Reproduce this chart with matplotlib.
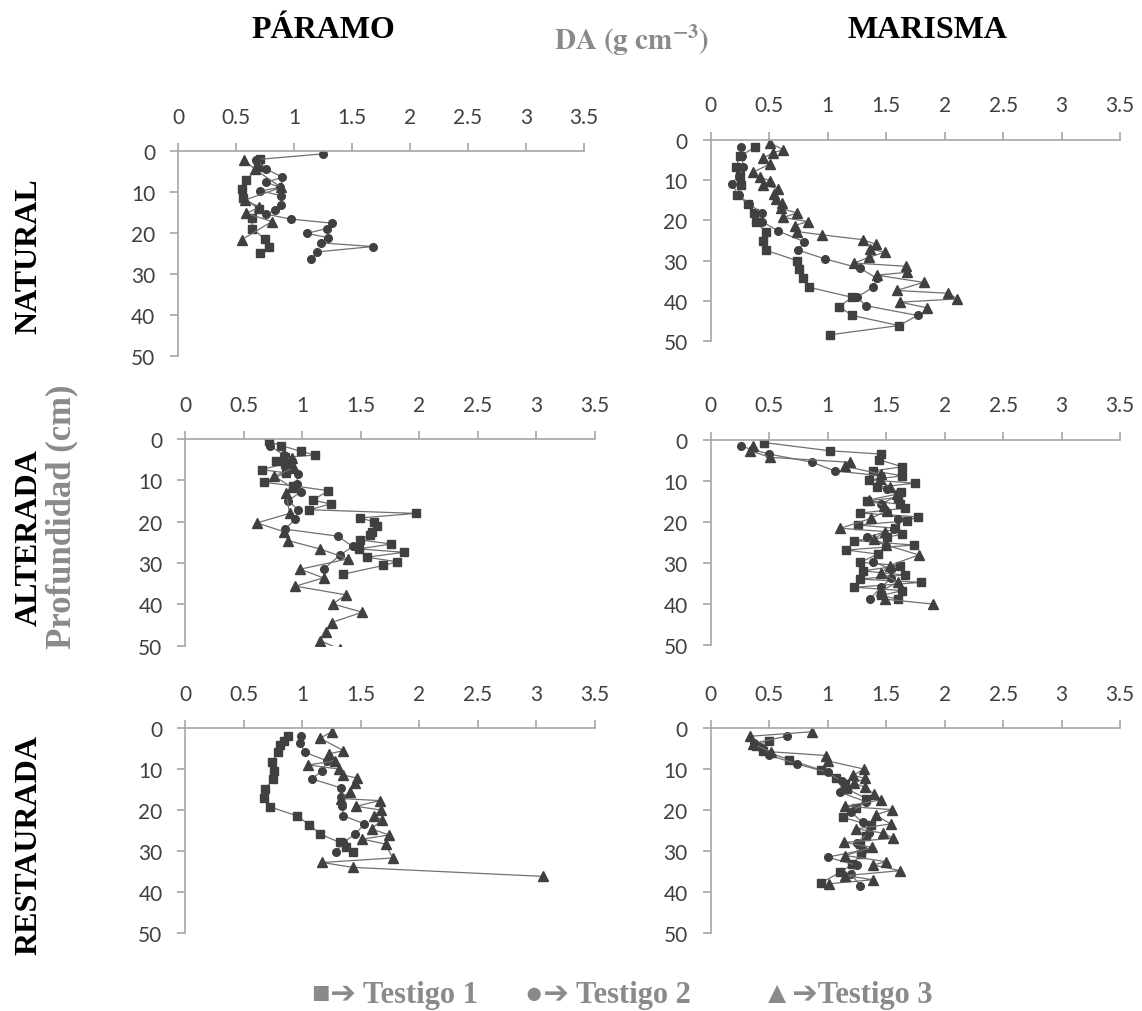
"""Densidad aparente (DA) frente a profundidad en paramo y marisma.

Seis paneles: filas = estado (natural, alterada, restaurada),
columnas = ambiente (paramo, marisma). Tres testigos por panel.
"""
import matplotlib
matplotlib.use("Agg")
import matplotlib.pyplot as plt

# === Datos (profundidad en cm, DA en g cm-3) ===
# Paramo natural
PN_T1_PROF = [2.0, 4.0, 7.0, 9.3, 11.5, 14.1, 16.4, 18.9, 21.5, 23.5, 24.9]
PN_T1_DA = [0.71, 0.69, 0.59, 0.55, 0.56, 0.70, 0.64, 0.64, 0.75, 0.78, 0.71]
PN_T2_PROF = [0.7, 2.1, 4.4, 6.4, 7.6, 8.9, 9.7, 10.9, 13.2, 14.4, 15.4, 16.6,
              17.6, 18.9, 20.1, 21.1, 22.4, 23.3, 24.6, 26.3]
PN_T2_DA = [1.25, 0.67, 0.76, 0.90, 0.76, 0.88, 0.71, 0.89, 0.89, 0.84, 0.76,
            0.97, 1.33, 1.28, 1.11, 1.29, 1.23, 1.68, 1.20, 1.15]
PN_T3_PROF = [2.2, 4.4, 8.9, 11.9, 13.7, 15.2, 17.2, 21.6]
PN_T3_DA = [0.57, 0.66, 0.89, 0.58, 0.70, 0.59, 0.81, 0.55]

# Marisma natural
MN_T1_PROF = [1.9, 4.1, 6.7, 8.9, 11.2, 13.7, 16.0, 18.2, 20.3, 23.0, 25.2,
              27.4, 30.0, 32.2, 34.4, 36.6, 39.1, 41.4, 43.6, 46.1, 48.4]
MN_T1_DA = [0.38, 0.25, 0.22, 0.25, 0.26, 0.23, 0.32, 0.37, 0.39, 0.47, 0.45,
            0.47, 0.74, 0.76, 0.79, 0.84, 1.21, 1.10, 1.21, 1.61, 1.02]
MN_T2_PROF = [1.9, 4.1, 6.9, 8.9, 11.0, 13.7, 16.0, 18.2, 20.3, 22.7, 25.3,
              27.4, 29.6, 31.9, 34.4, 36.6, 39.1, 41.2, 43.6, 46.1]
MN_T2_DA = [0.26, 0.27, 0.28, 0.24, 0.18, 0.24, 0.33, 0.44, 0.44, 0.58, 0.80,
            0.75, 0.98, 1.28, 1.42, 1.39, 1.25, 1.33, 1.77, 1.61]
MN_T3_PROF = [0.8, 2.5, 3.3, 4.6, 6.0, 8.1, 9.3, 10.2, 11.2, 12.2, 13.5, 14.7,
              15.7, 17.0, 18.2, 19.3, 20.3, 21.3, 22.8, 23.6, 24.8, 25.9, 27.1,
              27.9, 29.2, 30.6, 31.4, 32.9, 33.6, 35.4, 37.4, 38.1, 39.5, 40.3,
              41.7]
MN_T3_DA = [0.51, 0.62, 0.53, 0.45, 0.51, 0.36, 0.42, 0.51, 0.45, 0.58, 0.54,
            0.56, 0.61, 0.60, 0.74, 0.62, 0.83, 0.72, 0.74, 0.95, 1.30, 1.41,
            1.36, 1.49, 1.35, 1.23, 1.67, 1.68, 1.42, 1.82, 1.59, 2.03, 2.11,
            1.62, 1.85]

# Paramo alterada
PA_T1_PROF = [0.6, 1.6, 3.0, 3.9, 4.4, 5.2, 6.0, 7.4, 8.2, 10.5, 11.3, 12.5,
              14.8, 15.7, 17.1, 18.0, 19.1, 20.0, 21.0, 22.4, 23.2, 24.4, 25.4,
              26.6, 27.4, 28.6, 29.7, 30.6, 32.7]
PA_T1_DA = [0.71, 0.82, 0.99, 1.11, 0.85, 0.77, 0.85, 0.65, 0.86, 0.67, 0.92,
            1.22, 1.09, 1.24, 1.06, 1.97, 1.49, 1.61, 1.64, 1.59, 1.58, 1.49,
            1.76, 1.48, 1.87, 1.55, 1.81, 1.69, 1.35]
PA_T2_PROF = [1.6, 3.9, 5.2, 6.5, 8.5, 10.9, 12.7, 14.9, 17.1, 19.4, 21.8,
              23.5, 26.0, 28.1, 31.5]
PA_T2_DA = [0.72, 0.84, 0.91, 0.88, 0.96, 0.95, 0.99, 0.88, 0.96, 0.94, 0.85,
            1.30, 1.43, 1.32, 1.18]
PA_T3_PROF = [4.7, 6.9, 9.0, 11.7, 13.1, 18.0, 20.3, 22.4, 24.6, 26.6, 29.0,
              31.5, 33.6, 35.6, 37.7, 39.9, 41.9, 44.4, 46.8, 48.8, 50.8]
PA_T3_DA = [0.91, 0.93, 0.76, 0.91, 0.86, 0.89, 0.61, 0.84, 0.88, 1.15, 1.39,
            0.98, 1.18, 0.94, 1.37, 1.26, 1.51, 1.25, 1.20, 1.15, 1.32]

# Marisma alterada
MA_T1_PROF = [0.7, 2.7, 3.5, 4.9, 6.6, 7.6, 8.8, 9.8, 10.6, 11.6, 12.7, 14.1,
              14.9, 15.7, 16.7, 17.9, 18.8, 19.8, 20.8, 21.6, 23.0, 23.8, 24.6,
              25.7, 26.9, 27.9, 29.9, 30.7, 32.0, 33.0, 34.0, 34.8, 36.0, 36.8,
              38.0, 38.9]
MA_T1_DA = [0.46, 1.02, 1.46, 1.44, 1.64, 1.39, 1.64, 1.35, 1.75, 1.42, 1.63,
            1.60, 1.34, 1.62, 1.66, 1.28, 1.77, 1.68, 1.26, 1.58, 1.64, 1.51,
            1.23, 1.74, 1.16, 1.43, 1.28, 1.62, 1.30, 1.66, 1.28, 1.80, 1.23,
            1.64, 1.46, 1.60]
MA_T2_PROF = [1.6, 3.5, 5.5, 7.6, 8.8, 12.0, 13.5, 15.7, 17.7, 19.3, 21.8,
              23.8, 25.9, 27.9, 29.8, 31.5, 33.8, 36.0, 38.9]
MA_T2_DA = [0.26, 0.50, 0.87, 1.06, 1.46, 1.51, 1.60, 1.46, 1.51, 1.60, 1.57,
            1.34, 1.50, 1.43, 1.39, 1.54, 1.54, 1.46, 1.36]
MA_T3_PROF = [1.6, 2.7, 4.3, 5.5, 6.5, 8.4, 9.6, 11.6, 13.3, 14.7, 16.1, 17.3,
              19.2, 21.6, 22.4, 24.2, 25.7, 28.1, 30.7, 32.4, 34.8, 36.8, 38.9,
              40.1]
MA_T3_DA = [0.36, 0.34, 0.51, 1.19, 1.15, 1.46, 1.45, 1.53, 1.59, 1.35, 1.48,
            1.51, 1.37, 1.11, 1.49, 1.40, 1.50, 1.78, 1.53, 1.46, 1.60, 1.46,
            1.49, 1.90]

# Paramo restaurada
PR_T1_PROF = [1.9, 3.1, 4.1, 5.9, 8.2, 10.4, 12.4, 14.9, 17.1, 19.2, 21.4,
              23.6, 25.9, 27.9, 29.1, 30.3]
PR_T1_DA = [0.88, 0.84, 0.81, 0.79, 0.74, 0.76, 0.75, 0.68, 0.67, 0.72, 0.95,
            1.06, 1.15, 1.32, 1.37, 1.43]
PR_T2_PROF = [1.9, 3.7, 5.9, 8.0, 10.4, 12.4, 14.6, 16.9, 19.1, 21.4, 23.4,
              25.9, 27.9, 30.2]
PR_T2_DA = [0.99, 0.98, 1.02, 1.21, 1.17, 1.08, 1.33, 1.33, 1.34, 1.35, 1.53,
            1.45, 1.35, 1.29]
PR_T3_PROF = [0.9, 2.5, 5.5, 6.3, 8.0, 9.0, 10.0, 11.5, 12.2, 13.4, 15.5, 17.2,
              17.7, 19.1, 20.0, 21.4, 22.4, 24.6, 26.1, 27.1, 28.3, 31.7, 32.8,
              34.0, 36.2]
PR_T3_DA = [1.25, 1.15, 1.35, 1.23, 1.28, 1.05, 1.31, 1.35, 1.47, 1.45, 1.41,
            1.33, 1.66, 1.46, 1.67, 1.61, 1.68, 1.59, 1.74, 1.51, 1.71, 1.77,
            1.17, 1.43, 3.06]

# Marisma restaurada
MR_T1_PROF = [3.1, 4.3, 5.5, 7.7, 10.2, 12.3, 13.7, 14.9, 17.2, 19.6, 21.8,
              23.7, 26.3, 28.3, 30.7, 33.2, 35.2, 37.8]
MR_T1_DA = [0.50, 0.39, 0.45, 0.67, 0.94, 1.07, 1.15, 1.17, 1.33, 1.24, 1.13,
            1.37, 1.33, 1.28, 1.29, 1.21, 1.11, 0.94]
MR_T2_PROF = [2.0, 3.7, 4.8, 6.6, 8.8, 10.8, 13.0, 15.7, 18.0, 20.5, 23.0,
              25.5, 28.0, 29.8, 31.5, 33.5, 35.5, 38.5]
MR_T2_DA = [0.65, 0.37, 0.44, 0.50, 0.74, 1.00, 1.12, 1.11, 1.33, 1.20, 1.30,
            1.35, 1.25, 1.30, 1.00, 1.25, 1.20, 1.28]
MR_T3_PROF = [0.9, 2.0, 3.9, 5.8, 6.7, 8.0, 10.0, 11.5, 12.3, 13.4, 14.5, 16.1,
              17.5, 19.1, 19.9, 21.2, 23.4, 24.6, 25.6, 26.9, 27.9, 29.1, 31.1,
              32.6, 33.4, 34.8, 36.0, 37.0, 38.0]
MR_T3_DA = [0.87, 0.34, 0.36, 0.52, 0.99, 1.00, 1.31, 1.22, 1.32, 1.23, 1.32,
            1.40, 1.46, 1.15, 1.55, 1.41, 1.54, 1.24, 1.47, 1.56, 1.14, 1.38,
            1.15, 1.50, 1.39, 1.62, 1.15, 1.39, 1.01]

XTICKS = [0, 0.5, 1, 1.5, 2, 2.5, 3, 3.5]
XLABELS = ["0", "0.5", "1", "1.5", "2", "2.5", "3", "3.5"]
YTICKS = [0, 10, 20, 30, 40, 50]

PANELES = [
    # (posicion [l, b, w, h] en fraccion de figura, series)
    ([0.1559, 0.6472, 0.3555, 0.2026],
     [(PN_T1_DA, PN_T1_PROF), (PN_T2_DA, PN_T2_PROF), (PN_T3_DA, PN_T3_PROF)]),
    ([0.6222, 0.6618, 0.3586, 0.1992],
     [(MN_T1_DA, MN_T1_PROF), (MN_T2_DA, MN_T2_PROF), (MN_T3_DA, MN_T3_PROF)]),
    ([0.1624, 0.3610, 0.3586, 0.2042],
     [(PA_T1_DA, PA_T1_PROF), (PA_T2_DA, PA_T2_PROF), (PA_T3_DA, PA_T3_PROF)]),
    ([0.6222, 0.3620, 0.3586, 0.2025],
     [(MA_T1_DA, MA_T1_PROF), (MA_T2_DA, MA_T2_PROF), (MA_T3_DA, MA_T3_PROF)]),
    ([0.1624, 0.0771, 0.3586, 0.2025],
     [(PR_T1_DA, PR_T1_PROF), (PR_T2_DA, PR_T2_PROF), (PR_T3_DA, PR_T3_PROF)]),
    ([0.6222, 0.0771, 0.3586, 0.2025],
     [(MR_T1_DA, MR_T1_PROF), (MR_T2_DA, MR_T2_PROF), (MR_T3_DA, MR_T3_PROF)]),
]

MARCADORES = [("s", 5.5), ("o", 5.5), ("^", 6.5)]
GRIS_EJE = "#a6a6a6"
GRIS_TXT = "#8a8a8a"
SERIF = ["Liberation Serif", "DejaVu Sans"]

plt.rcParams["mathtext.fontset"] = "stix"


def estilo(ax):
    ax.set_xlim(0, 3.5)
    ax.set_ylim(50, 0)
    ax.xaxis.tick_top()
    ax.set_xticks(XTICKS)
    ax.set_xticklabels(XLABELS)
    ax.set_yticks(YTICKS)
    for lado in ("right", "bottom"):
        ax.spines[lado].set_visible(False)
    for lado in ("top", "left"):
        ax.spines[lado].set_color(GRIS_EJE)
        ax.spines[lado].set_linewidth(1.2)
    ax.tick_params(axis="both", direction="out", length=5.5, width=1.2,
                   color=GRIS_EJE, labelsize=15, labelcolor="#404040")
    ax.tick_params(axis="x", pad=12)
    ax.tick_params(axis="y", pad=11)
    for lbl in ax.get_xticklabels() + ax.get_yticklabels():
        lbl.set_family("Lato")


def main() -> None:
    fig = plt.figure(figsize=(11.42, 10.12), dpi=100)

    for pos, series in PANELES:
        ax = fig.add_axes(pos)
        for (da, prof), (mk, ms) in zip(series, MARCADORES):
            ax.plot(da, prof, color="#707070", lw=0.9, marker=mk, ms=ms,
                    mfc="#404040", mec="#404040")
        estilo(ax)

    # Titulos de columna
    fig.text(323 / 1142, 1 - 30 / 1012, "PÁRAMO", ha="center", va="center",
             fontsize=23, fontweight="bold", family=SERIF)
    fig.text(928 / 1142, 1 - 30 / 1012, "MARISMA", ha="center", va="center",
             fontsize=23, fontweight="bold", family=SERIF)
    fig.text(632 / 1142, 1 - 40 / 1012, r"$\mathbf{DA\ (g\ cm^{-3})}$",
             ha="center", va="center", fontsize=21, color=GRIS_TXT)

    # Titulos de fila
    for yc, txt in [(256, "NATURAL"), (538, "ALTERADA"), (845, "RESTAURADA")]:
        fig.text(29 / 1142, 1 - yc / 1012, txt, rotation=90, ha="center",
                 va="center", fontsize=23, fontweight="bold", family=SERIF)
    fig.text(62 / 1142, 1 - 517 / 1012, "Profundidad (cm)", rotation=90,
             ha="center", va="center", fontsize=25, fontweight="bold",
             family=SERIF, color=GRIS_TXT)

    # Leyenda manual
    for xc, txt in [(395, "■➔ Testigo 1"), (608, "●➔ Testigo 2"),
                    (847, "▲➔Testigo 3")]:
        fig.text(xc / 1142, 1 - 996 / 1012, txt, ha="center", va="center",
                 fontsize=22, fontweight="bold", family=SERIF, color=GRIS_TXT)

    fig.savefig("out.png", dpi=100)
    plt.close(fig)


if __name__ == "__main__":
    main()
